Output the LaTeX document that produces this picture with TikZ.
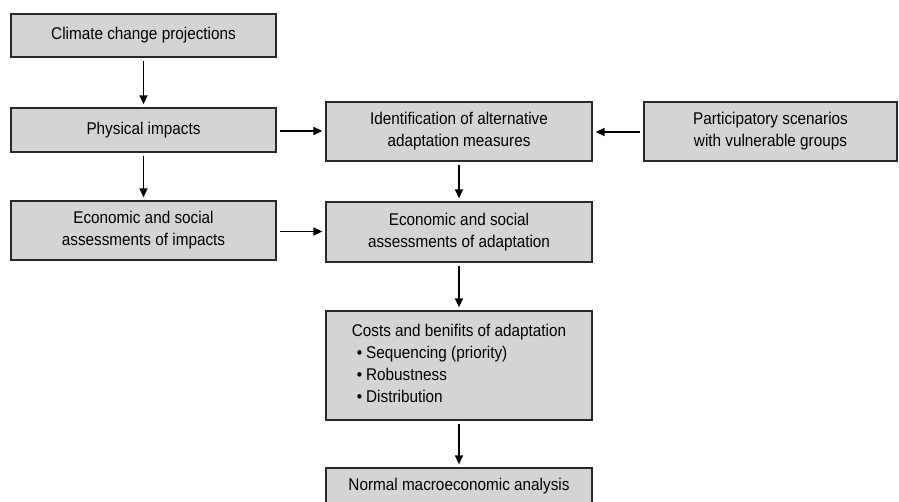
\documentclass[tikz,border=0pt]{standalone}
\usepackage{fontspec}
\setmainfont{Liberation Sans}[FakeStretch=0.9]
\usetikzlibrary{arrows.meta,positioning}
\definecolor{boxfill}{RGB}{212,212,212}
\definecolor{boxline}{RGB}{40,40,40}
\tikzset{
  txt/.style={font=\fontsize{17}{22}\selectfont, text=black},
  box/.style={draw=boxline, fill=boxfill, line width=1.3pt, inner sep=0pt,
    align=center, txt},
  conn/.style={draw=black, line width=1.4pt, -{Triangle[length=9pt,width=8pt]},
    shorten <=3pt, shorten >=3pt}
}
\begin{document}
\begin{tikzpicture}[x=1pt,y=-1pt]
\useasboundingbox (0,0) rectangle (899,502);
\clip (0,0) rectangle (899,502);
\node[box, minimum width=265pt, minimum height=43pt] (A) at (143.5,35.5) {Climate change projections};
\node[box, minimum width=265pt, minimum height=44pt] (B) at (143.5,130) {Physical impacts};
\node[box, minimum width=265pt, minimum height=59pt] (C) at (143.5,230.5) {Economic and social\\assessments of impacts};
\node[box, minimum width=266pt, minimum height=59pt] (D) at (459,131.5) {Identification of alternative\\adaptation measures};
\node[box, minimum width=253pt, minimum height=59pt] (E) at (770.5,131.5) {Participatory scenarios\\with vulnerable groups};
\node[box, minimum width=266pt, minimum height=60pt] (F) at (459,232) {Economic and social\\assessments of adaptation};
\node[box, minimum width=266pt, minimum height=109pt] (G) at (459,365.5) {%
  \begin{tabular}{@{}l@{}}Costs and benifits of adaptation\\
  \hspace{5pt}•\hspace{4pt}Sequencing (priority)\\
  \hspace{5pt}•\hspace{4pt}Robustness\\
  \hspace{5pt}•\hspace{4pt}Distribution\end{tabular}};
\node[box, minimum width=266pt, minimum height=44pt] (H) at (459,490) {};
\node[txt, inner sep=0pt] (Ht) at (459,486) {Normal macroeconomic analysis};
\draw[conn] (A) -- (B);
\draw[conn] (B) -- (C);
\draw[conn] (B.east |- 0,131) -- (D.west |- 0,131);
\draw[conn] (C.east |- 0,231.5) -- (F.west |- 0,231.5);
\draw[conn] (E.west |- 0,132) -- (D.east |- 0,132);
\draw[conn] (D) -- (F);
\draw[conn] (F) -- (G);
\draw[conn] (G) -- (H);
\end{tikzpicture}
\end{document}
